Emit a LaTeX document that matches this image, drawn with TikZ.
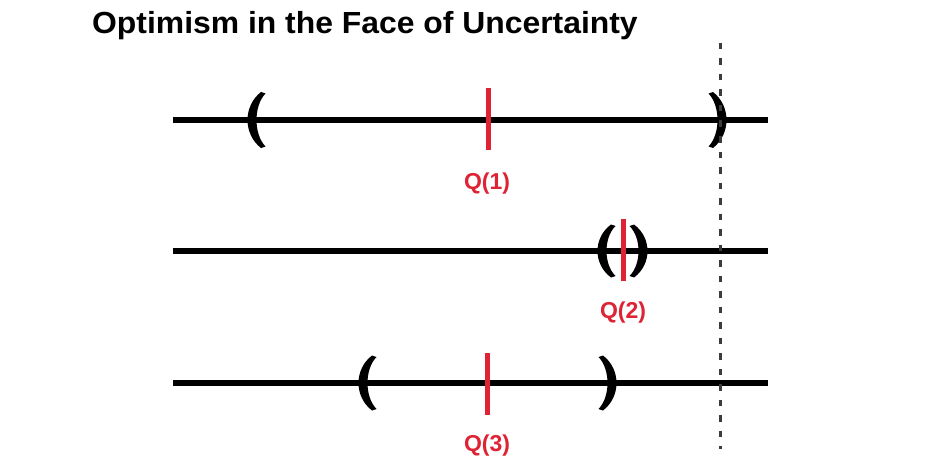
\documentclass[tikz,border=0pt]{standalone}
\usepackage{fontspec}
\setmainfont{Liberation Sans}
\definecolor{qred}{RGB}{222,36,52}
\definecolor{dashgray}{RGB}{60,60,60}
\newcommand{\openbr}[3]{% xm, yc, h : "("
  \fill (#1+9,#2-#3) .. controls (#1-9,#2-#3/2) and (#1-9,#2+#3/2) .. (#1+9,#2+#3)
        -- (#1+13.5,#2+#3-1.5) .. controls (#1+1.5,#2+#3/2) and (#1+1.5,#2-#3/2) .. (#1+13.5,#2-#3+1.5) -- cycle;}
\newcommand{\closebr}[3]{% xm, yc, h : ")"
  \fill (#1-9,#2-#3) .. controls (#1+9,#2-#3/2) and (#1+9,#2+#3/2) .. (#1-9,#2+#3)
        -- (#1-13.5,#2+#3-1.5) .. controls (#1-1.5,#2+#3/2) and (#1-1.5,#2-#3/2) .. (#1-13.5,#2-#3+1.5) -- cycle;}
\tikzset{
  axis/.style={line width=6.5pt, black},
  qtick/.style={line width=5pt, qred},
  qlabel/.style={font=\fontsize{23}{26}\selectfont\bfseries, text=qred, inner sep=0pt, anchor=base},
  bound/.style={line width=3pt, dashgray, dash pattern=on 6.5pt off 9pt},
}
\begin{document}
\begin{tikzpicture}[x=1pt,y=-1pt]
\useasboundingbox (0,0) rectangle (944,476);
\fill[white] (0,0) rectangle (944,476);
\node[font=\fontsize{30.5}{34}\selectfont\bfseries, anchor=base west, inner sep=0pt] (title) at (92,34) {\scalebox{1.045}[1]{Optimism in the Face of Uncertainty}};
% axes
\coordinate (a1s) at (173,120); \coordinate (a1e) at (768,120);
\coordinate (a2s) at (173,251); \coordinate (a2e) at (768,251);
\coordinate (a3s) at (173,383); \coordinate (a3e) at (768,383);
\draw[axis] (a1s) -- (a1e);
\draw[axis] (a2s) -- (a2e);
\draw[axis] (a3s) -- (a3e);
% brackets
\openbr{252}{120}{28}
\closebr{722}{120}{28}
\openbr{602}{251}{26.5}
\closebr{643}{251}{26.5}
\openbr{363}{383}{27.5}
\closebr{612}{383}{27.5}
% Q ticks
\coordinate (t1a) at (488,88);  \coordinate (t1b) at (488,150);
\coordinate (t2a) at (623,219); \coordinate (t2b) at (623,281);
\coordinate (t3a) at (487,353); \coordinate (t3b) at (487,415);
\draw[qtick] (t1a) -- (t1b);
\draw[qtick] (t2a) -- (t2b);
\draw[qtick] (t3a) -- (t3b);
\node[qlabel] (q1) at (487,189) {Q(1)};
\node[qlabel] (q2) at (623,318) {Q(2)};
\node[qlabel] (q3) at (487,451) {Q(3)};
% dashed bound
\coordinate (dtop) at (720,43); \coordinate (dbot) at (720,449);
\draw[bound] (dtop) -- (dbot);
\end{tikzpicture}
\end{document}
